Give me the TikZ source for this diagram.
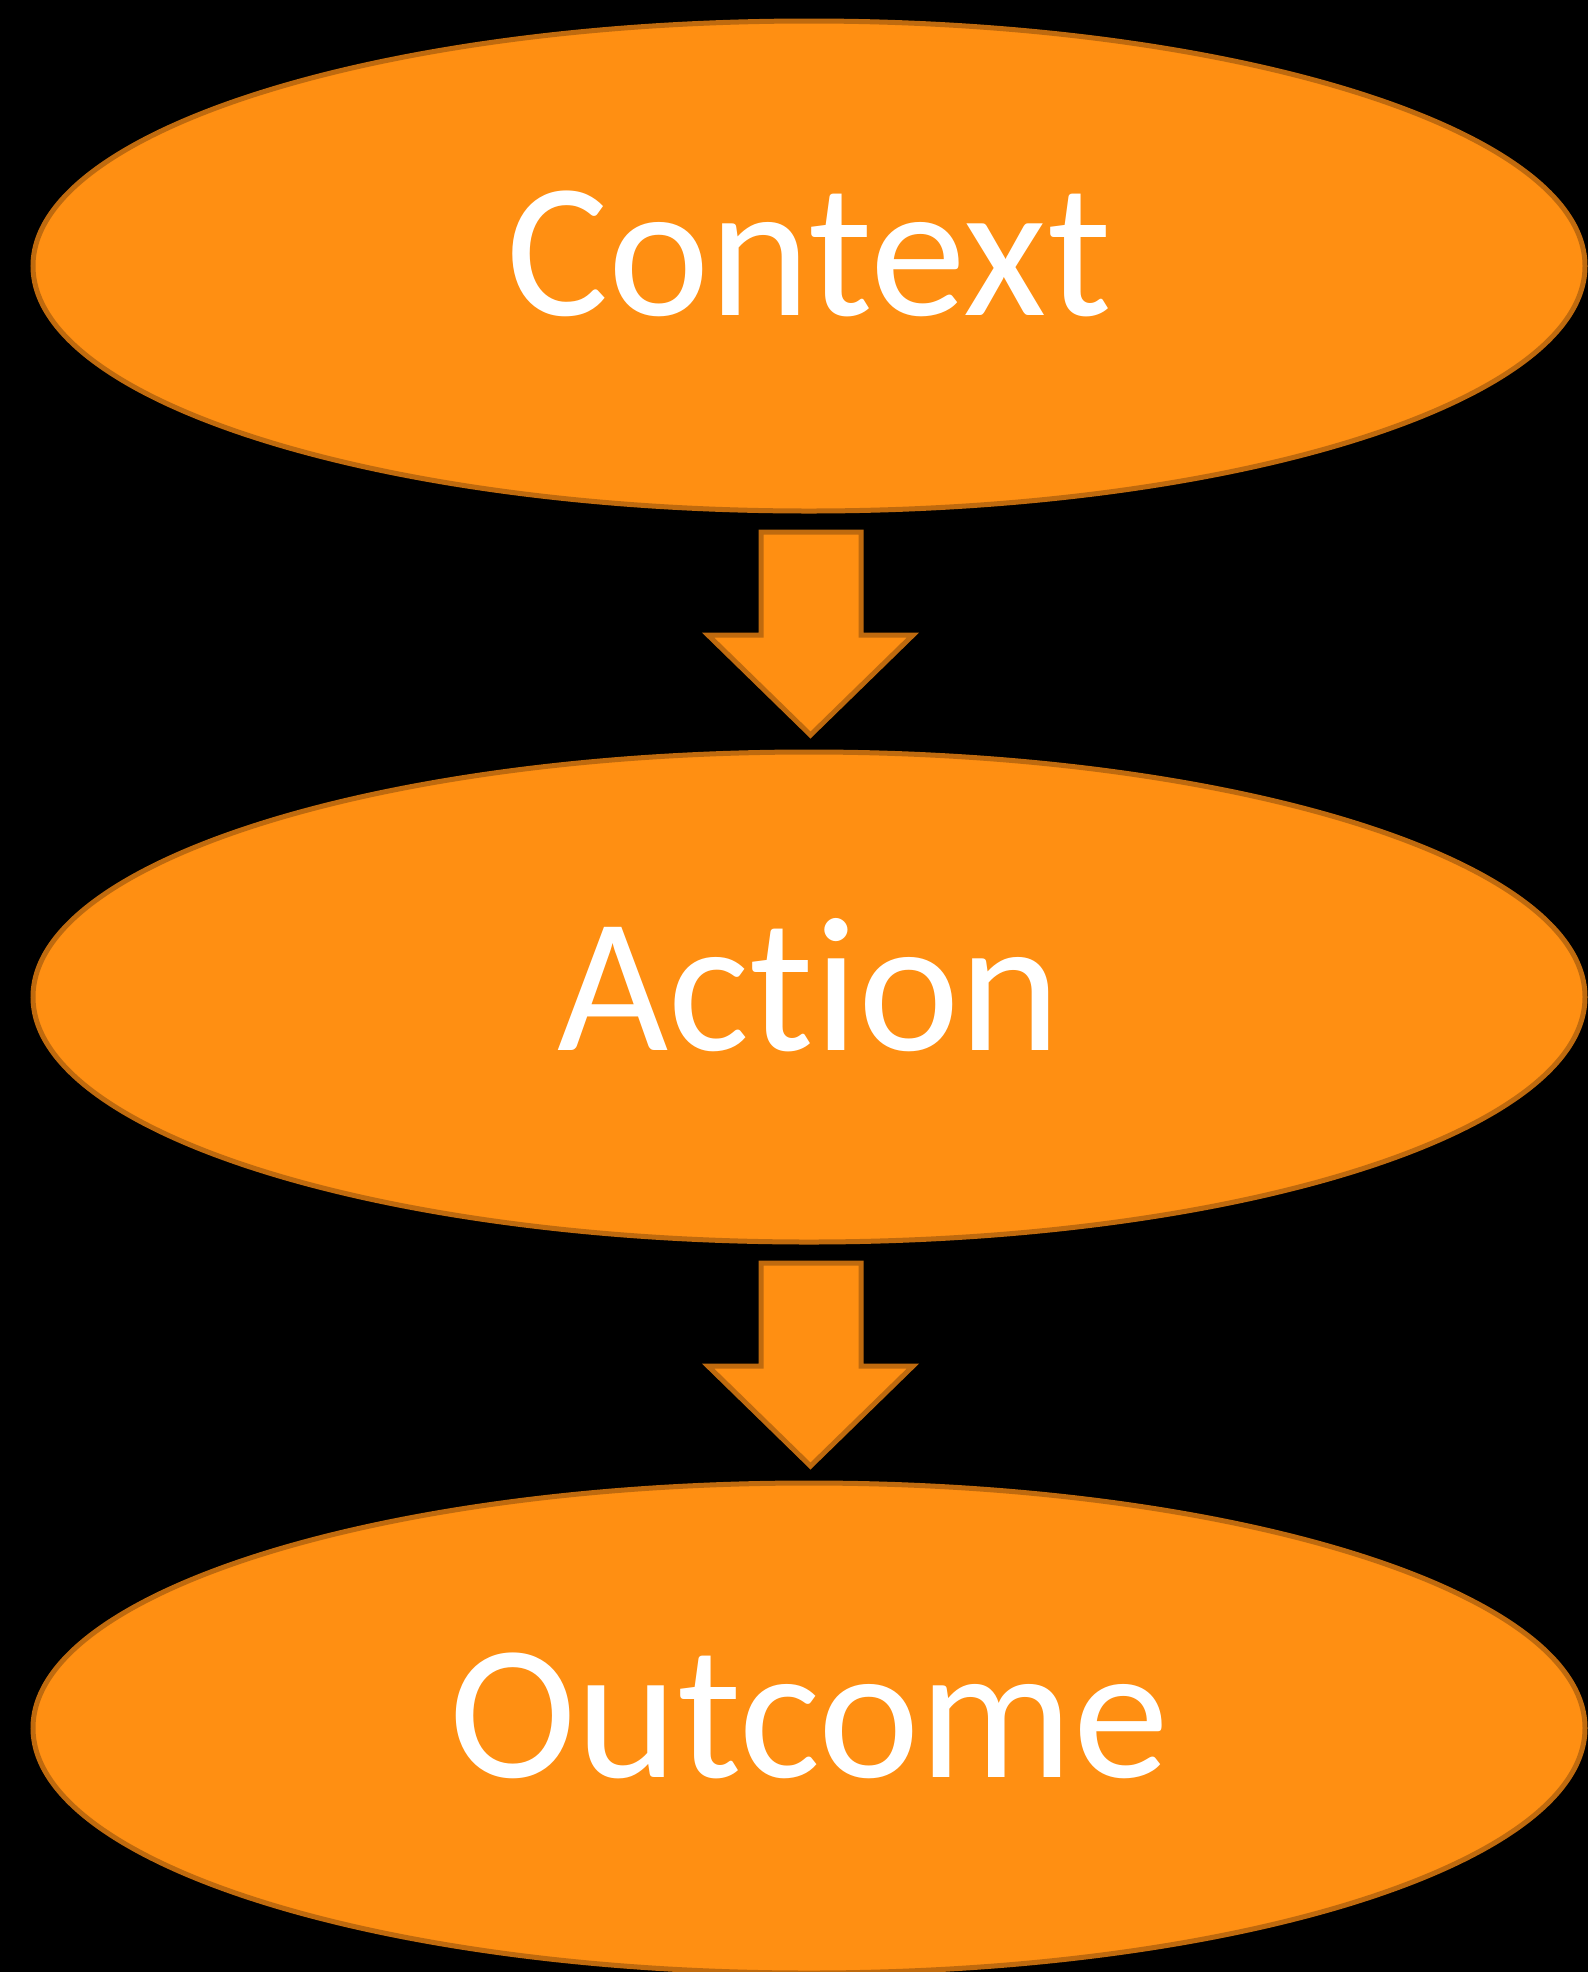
\documentclass[tikz,border=0pt]{standalone}
\usepackage{fontspec}
\setmainfont{Carlito}[Ligatures={NoCommon,NoRequired,NoContextual}]
\usetikzlibrary{shapes.geometric}
\definecolor{orfill}{HTML}{FF8F12}
\definecolor{orline}{HTML}{BF6A0E}
\tikzset{
  ellbox/.style={ellipse, fill=orfill, draw=orline, line width=2.5pt,
    minimum width=776pt, minimum height=245pt, inner sep=0pt, outer sep=0pt,
    text=white, font=\fontsize{96}{96}\selectfont, text depth=13pt},
  blockarrow/.style={fill=orfill, draw=orline, line width=2.5pt, line join=miter}
}
\begin{document}
\begin{tikzpicture}[x=0.5pt,y=-0.5pt]
\fill[black] (0,0) rectangle (1588,1972);
\useasboundingbox (0,0) rectangle (1588,1972);
\node[ellbox] (ctx) at (809,266) {Context};
\node[ellbox] (act) at (809,997) {Action};
\node[ellbox] (out) at (809,1728) {Outcome};
\foreach \dy/\nm in {0/a1,731/a2}{
  \draw[blockarrow] (761,532+\dy) -- (861,532+\dy) -- (861,635+\dy) -- (913,635+\dy)
    -- (810.5,735+\dy) -- (708,635+\dy) -- (761,635+\dy) -- cycle;
}
\end{tikzpicture}
\end{document}
